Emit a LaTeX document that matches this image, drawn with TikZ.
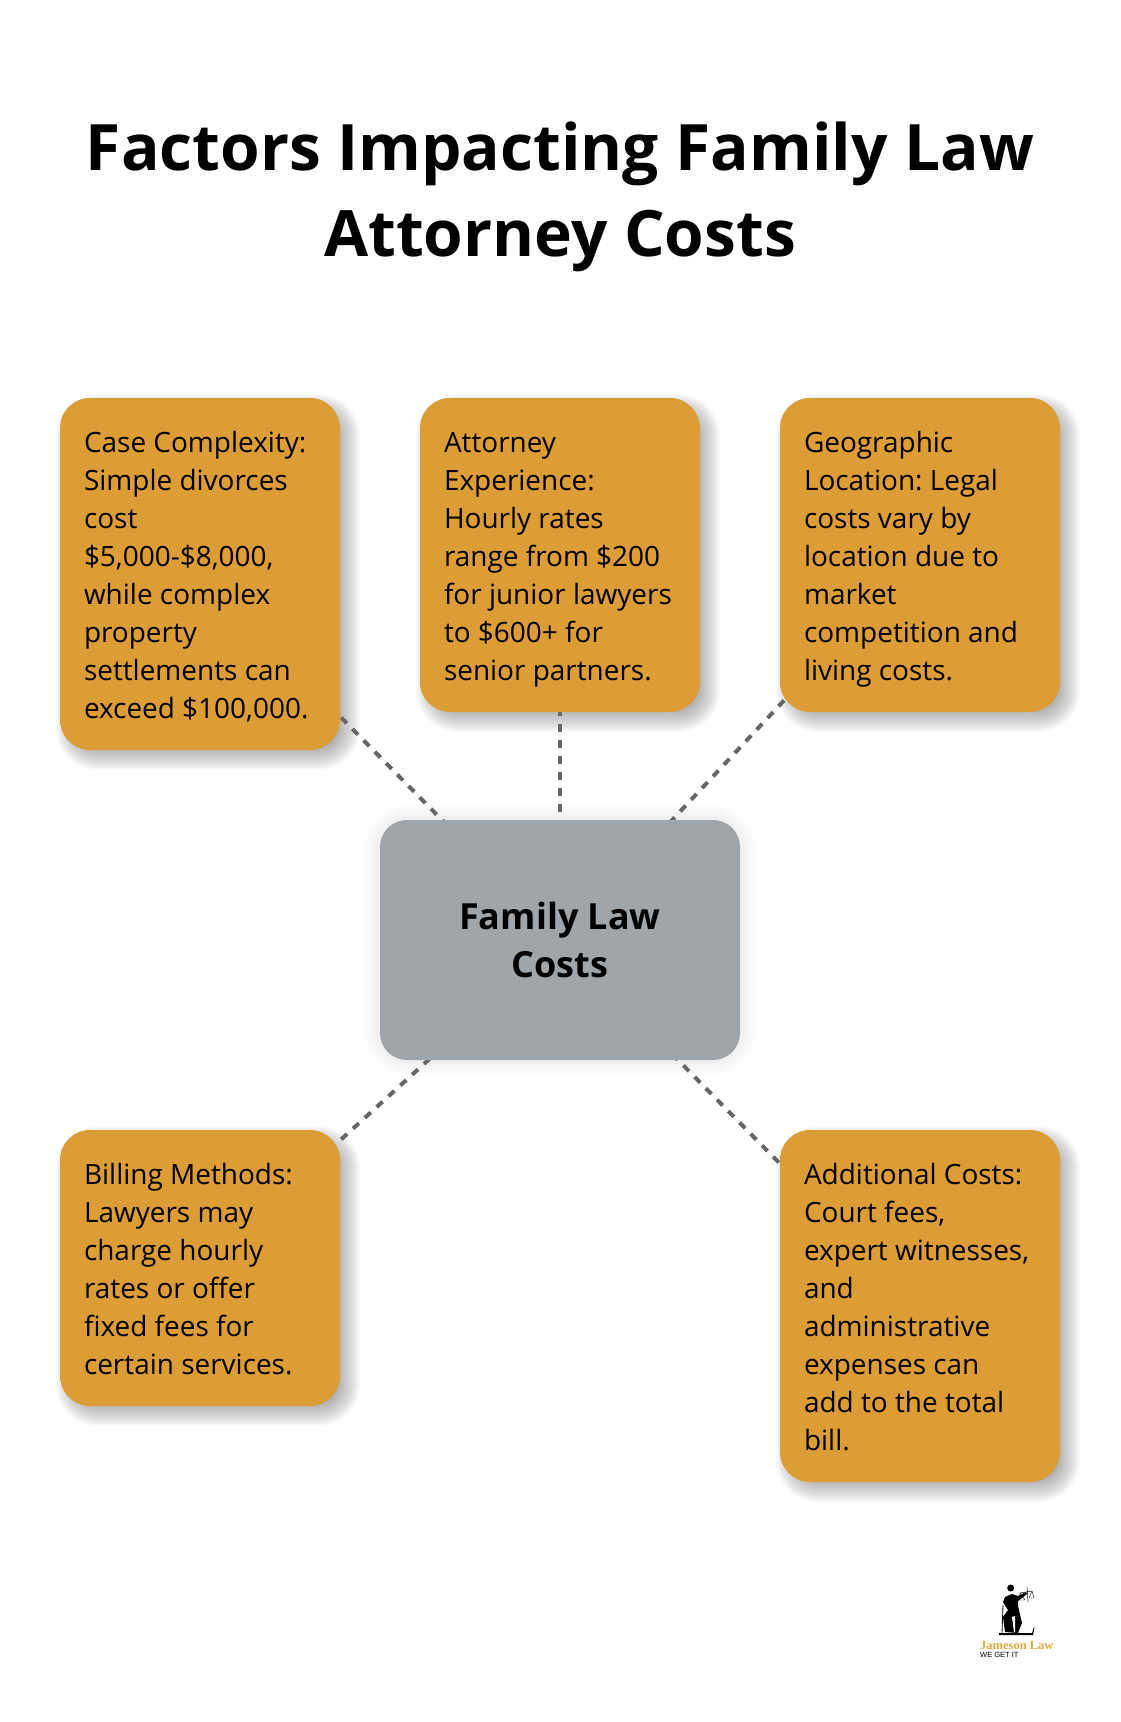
\documentclass[tikz,border=0pt]{standalone}
\usepackage{fontspec}
\setmainfont{Open Sans}
\newfontfamily\logofont{Liberation Serif}
\newfontfamily\logosans{Liberation Sans}
\usetikzlibrary{backgrounds}
\definecolor{factorfill}{HTML}{DC9C36}
\definecolor{costfill}{HTML}{A0A5A9}
\definecolor{linkgray}{HTML}{666666}
\definecolor{logogold}{HTML}{E0A93F}
\newcommand{\factorstrut}{\rule[-7.3pt]{0pt}{38pt}}
\newcommand{\hubstrut}{\rule{0pt}{31.5pt}}
\tikzset{
  factor/.style={fill=factorfill,rounded corners=30pt,minimum width=280pt,text width=232pt,
    inner xsep=24pt,inner ysep=0pt,align=flush left,font=\fontsize{27.95}{38}\selectfont\frenchspacing,
    execute at begin node=\factorstrut,execute at end node=\factorstrut},
  hub/.style={fill=costfill,rounded corners=27pt,minimum width=360pt,minimum height=240pt,
    align=center,font=\fontsize{36}{48}\selectfont\bfseries,
    execute at begin node=\hubstrut},
  link/.style={draw=linkgray,line width=4pt,dash pattern=on 8pt off 8pt},
}
\newcommand{\softshadow}[5]{%
  \foreach \i in {-#5,...,#5} {
    \fill[black,opacity=#4,rounded corners={(30+\i)*1pt}]
      ([shift={(#2-\i,#3-\i)}]#1.north west) rectangle ([shift={(#2+\i,#3+\i)}]#1.south east);
  }
}
\begin{document}
\begin{tikzpicture}[x=1pt,y=-1pt]
  \useasboundingbox (0,0) rectangle (1120,1722);
  \node[align=center,font=\fontsize{64}{86}\selectfont\bfseries] (title) at (560,197) {Factors Impacting Family Law\\Attorney Costs};

  \node[factor,minimum height=352pt] (complexity) at (200,574) {Case Complexity:\\Simple divorces\\cost\\\$5,000-\$8,000,\\while complex\\property\\settlements can\\exceed \$100,000.};
  \node[factor,minimum height=314pt] (experience) at (560,555) {Attorney\\Experience:\\Hourly rates\\range from \$200\\for junior lawyers\\to \$600+ for\\senior partners.};
  \node[factor,minimum height=314pt] (location) at (920,555) {Geographic\\Location: Legal\\costs vary by\\location due to\\market\\competition and\\living costs.};
  \node[hub] (costs) at (560,940) {Family Law\\Costs};
  \node[factor,minimum height=276pt] (billing) at (200,1268) {Billing Methods:\\Lawyers may\\charge hourly\\rates or offer\\fixed fees for\\certain services.};
  \node[factor,minimum height=352pt] (additional) at (920,1306) {Additional Costs:\\Court fees,\\expert witnesses,\\and\\administrative\\expenses can\\add to the total\\bill.};

  \begin{scope}[on background layer]
    \foreach \n in {complexity,experience,location,billing,additional} {
      \softshadow{\n}{8}{8}{0.017}{12}
    }
    \softshadow{costs}{0}{0}{0.005}{16}
    \draw[link] (costs.center) -- (complexity.center);
    \draw[link] (costs.center) -- (experience.center);
    \draw[link] (costs.center) -- (location.center);
    \draw[link] (costs.center) -- (billing.center);
    \draw[link] (costs.center) -- (additional.center);
  \end{scope}

  \fill (1010.7,1588) circle[radius=3.5];
  \fill (1005,1597) -- (1012,1594) -- (1018,1596) -- (1026,1592) -- (1027,1594) -- (1018,1601) -- (1018,1606) -- (1022,1623) -- (1018,1633) -- (1005,1632) -- (1003,1617) -- (1008,1610) -- (1003,1602) -- cycle;
  \fill[white] (1012,1617) -- (1015,1616) -- (1015,1632) -- (1014,1632) -- cycle;
  \draw[line width=0.8pt] (1003,1605) -- (1002,1633);
  \draw[line width=0.5pt] (1027,1587) -- (1028,1602) (1020,1593) -- (1032,1591);
  \draw[line width=0.4pt] (1020,1593) -- (1019,1600) -- (1025,1600) -- cycle (1032,1591) -- (1029,1598) -- (1034,1598) -- cycle;
  \fill (999,1633) -- (1032,1633) -- (1034,1627) -- (1034.5,1627) -- (1033,1635) -- (999,1635) -- cycle;
  \node[inner sep=0pt,anchor=base west,text=logogold,font=\logofont\bfseries\fontsize{12.5}{14}\selectfont] (firm) at (980,1649) {Jameson Law};
  \node[inner sep=0pt,anchor=base west,text=black,font=\logosans\fontsize{7.5}{9}\selectfont] (motto) at (980,1657) {WE GET IT};
\end{tikzpicture}
\end{document}
